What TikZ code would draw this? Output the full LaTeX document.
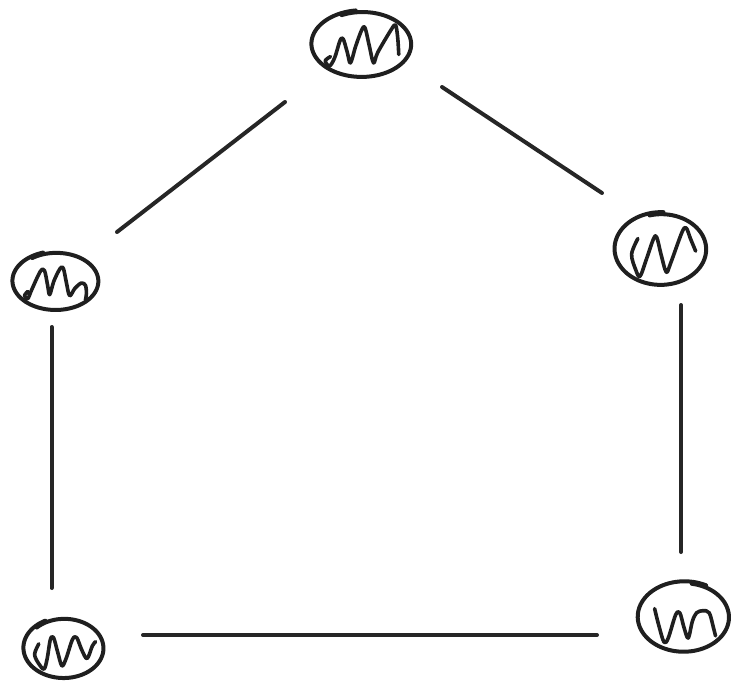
\documentclass[tikz,border=0pt]{standalone}
\begin{document}
% Hand-drawn oval: a slowly widening loop that overshoots its start a little.
% #1 = x radius, #2 = y radius, #3 = start angle
\newcommand\mitooval[3]{%
  \draw[pen] plot[domain=#3:#3+378, samples=90, smooth, variable=\t]
    ({#1*(0.965+0.06*(\t-#3)/378)*cos(\t)}, {#2*(0.965+0.06*(\t-#3)/378)*sin(\t)});%
}
\begin{tikzpicture}[x=1pt, y=-1pt,
  pen/.style={line width=4pt, draw=black!88, line cap=round, line join=round},
  squig/.style={line width=3.6pt, draw=black!88, line cap=round, line join=round, scale=1.05},
  link/.style={line width=4pt, draw=black!85, line cap=round},
  hub/.style={inner sep=0pt, minimum size=0pt}]
\useasboundingbox (0,0) rectangle (738,686);

% organelle centres
\node[hub] (n1) at (362,44) {};
\node[hub] (n2) at (56,281) {};
\node[hub] (n3) at (661,249) {};
\node[hub] (n4) at (64,648) {};
\node[hub] (n5) at (684,617) {};

% top
\begin{scope}[shift={(n1)}]
  \mitooval{50}{33}{245}
  \draw[squig] plot[smooth, tension=0.55] coordinates {(-30,12) (-35,16) (-31,21) (-26,13) (-21,-3) (-18,-5) (-14,8) (-11,18) (-6,2) (0,-14) (3,-15) (7,2) (11,18) (15,8) (28,-14) (32,-18) (34,-6) (35,10)};
\end{scope}

% left
\begin{scope}[shift={(n2)}]
  \mitooval{43}{29}{235}
  \draw[squig] plot[smooth, tension=0.55] coordinates {(-27,10) (-30,14) (-27,17) (-23,8) (-15,-9) (-11,-10) (-8,4) (-6,13) (-2,0) (4,-12) (7,-12) (10,2) (13,14) (18,7) (24,2) (28,4) (29,12) (28,18)};
\end{scope}

% right
\begin{scope}[shift={(n3)}]
  \mitooval{46}{36}{255}
  \draw[squig] plot[smooth, tension=0.55] coordinates {(-22,-10) (-28,5) (-24,20) (-20,26) (-14,10) (-7,-10) (-4,-11) (0,5) (5,22) (9,14) (20,-16) (24,-20) (28,-10) (33,2)};
\end{scope}

% bottom left
\begin{scope}[shift={(n4)}]
  \mitooval{40}{30}{225}
  \draw[squig] plot[smooth, tension=0.55] coordinates {(-24,-4) (-28,6) (-24,15) (-19,20) (-16,10) (-13,-8) (-10,-10) (-6,4) (-2,17) (2,10) (8,-8) (12,-10) (17,2) (22,10) (27,-2) (30,-6)};
\end{scope}

% bottom right
\begin{scope}[shift={(n5)}]
  \mitooval{46}{35}{280}
  \draw[squig] plot[smooth, tension=0.55] coordinates {(-28,-8) (-24,8) (-19,24) (-15,20) (-8,-2) (-4,-4) (0,10) (4,20) (8,4) (12,-4) (18,-6) (24,-4) (28,10) (30,18)};
\end{scope}

% connections
\draw[link] ([shift={(-77,58)}]n1.center) -- ([shift={(61,-49)}]n2.center);
\draw[link] ([shift={(80,43)}]n1.center) -- ([shift={(-59,-56)}]n3.center);
\draw[link] ([shift={(-4.5,46)}]n2.center) -- ([shift={(-12.5,-60)}]n4.center);
\draw[link] ([shift={(20,56)}]n3.center) -- ([shift={(-3,-65)}]n5.center);
\draw[link] ([shift={(79,-13)}]n4.center) -- ([shift={(-87,18)}]n5.center);
\end{tikzpicture}
\end{document}
